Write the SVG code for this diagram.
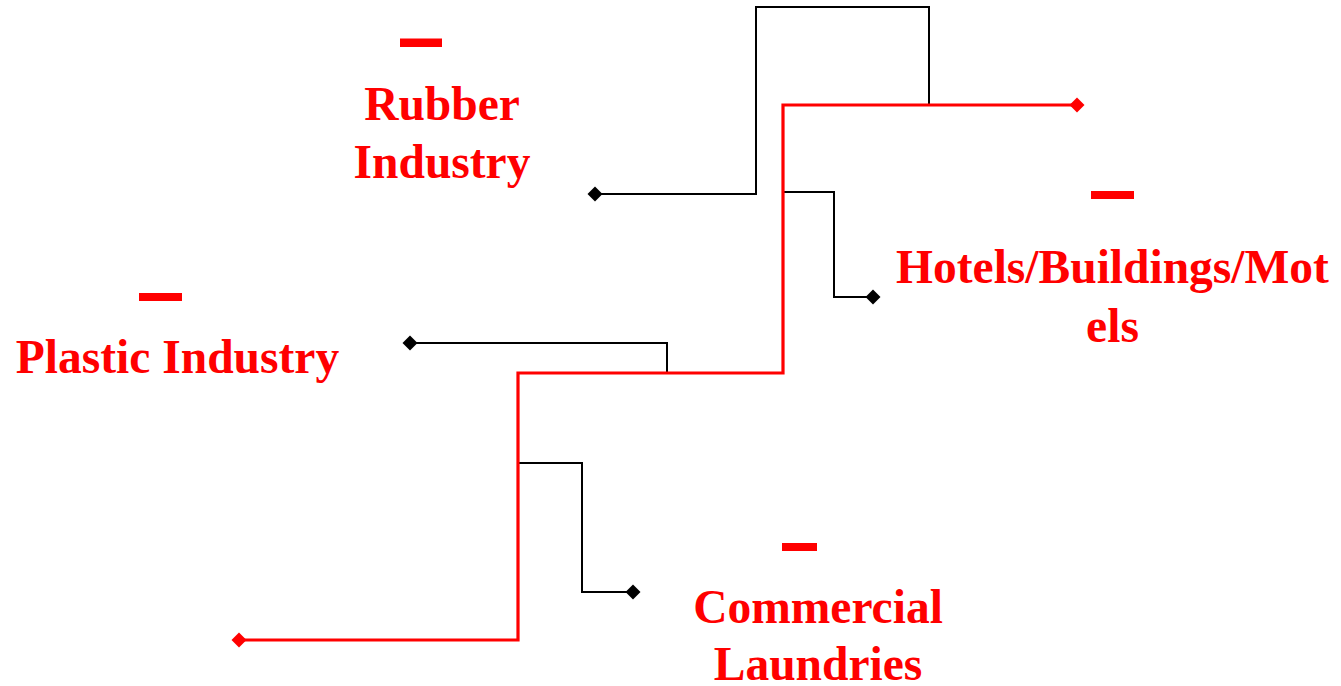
<svg xmlns="http://www.w3.org/2000/svg" width="1341" height="686" viewBox="0 0 1341 686">
  <style>
    .lbl { font-family: "Liberation Serif", "Times New Roman", serif; font-weight: bold; font-size: 47.5px; fill: #ff0000; text-anchor: middle; }
    .dash { fill: #ff0000; }
    .blk { fill: none; stroke: #000000; stroke-width: 2; }
    .red { fill: none; stroke: #ff0000; stroke-width: 3.2; }
  </style>
  <defs>
    <marker id="dBlack" markerUnits="userSpaceOnUse" viewBox="-8 -8 16 16" markerWidth="16" markerHeight="16" refX="0" refY="0" orient="0">
      <path d="M0,-7.5 L7.5,0 L0,7.5 L-7.5,0 Z" fill="#000000"/>
    </marker>
    <marker id="dRed" markerUnits="userSpaceOnUse" viewBox="-8 -8 16 16" markerWidth="16" markerHeight="16" refX="0" refY="0" orient="0">
      <path d="M0,-7.5 L7.5,0 L0,7.5 L-7.5,0 Z" fill="#ff0000"/>
    </marker>
  </defs>
  <rect width="1341" height="686" fill="#ffffff"/>
  <g id="connectors">
    <path class="blk" d="M595,194 H756 V7 H929 V105" marker-start="url(#dBlack)"/>
    <path class="blk" d="M410,343 H667 V373" marker-start="url(#dBlack)"/>
    <path class="blk" d="M783,192 H834 V297 H873" marker-end="url(#dBlack)"/>
    <path class="blk" d="M518,463 H582 V592 H633" marker-end="url(#dBlack)"/>
    <path class="red" d="M1077,105 H783 V373 H518 V640 H239" marker-start="url(#dRed)" marker-end="url(#dRed)"/>
  </g>
  <g id="node-rubber">
    <rect class="dash" x="400" y="38.5" width="42" height="8.5"/>
    <text class="lbl" x="442" y="120">Rubber</text>
    <text class="lbl" x="442" y="177.5">Industry</text>
  </g>
  <g id="node-plastic">
    <rect class="dash" x="139" y="293" width="43" height="8"/>
    <text class="lbl" x="177.5" y="373">Plastic Industry</text>
  </g>
  <g id="node-hotels">
    <rect class="dash" x="1091" y="191" width="43" height="8"/>
    <text class="lbl" x="1112.5" y="283">Hotels/Buildings/Mot</text>
    <text class="lbl" x="1112.5" y="342">els</text>
  </g>
  <g id="node-laundries">
    <rect class="dash" x="782" y="543" width="35" height="8"/>
    <text class="lbl" x="818" y="623">Commercial</text>
    <text class="lbl" x="818" y="680">Laundries</text>
  </g>
</svg>
